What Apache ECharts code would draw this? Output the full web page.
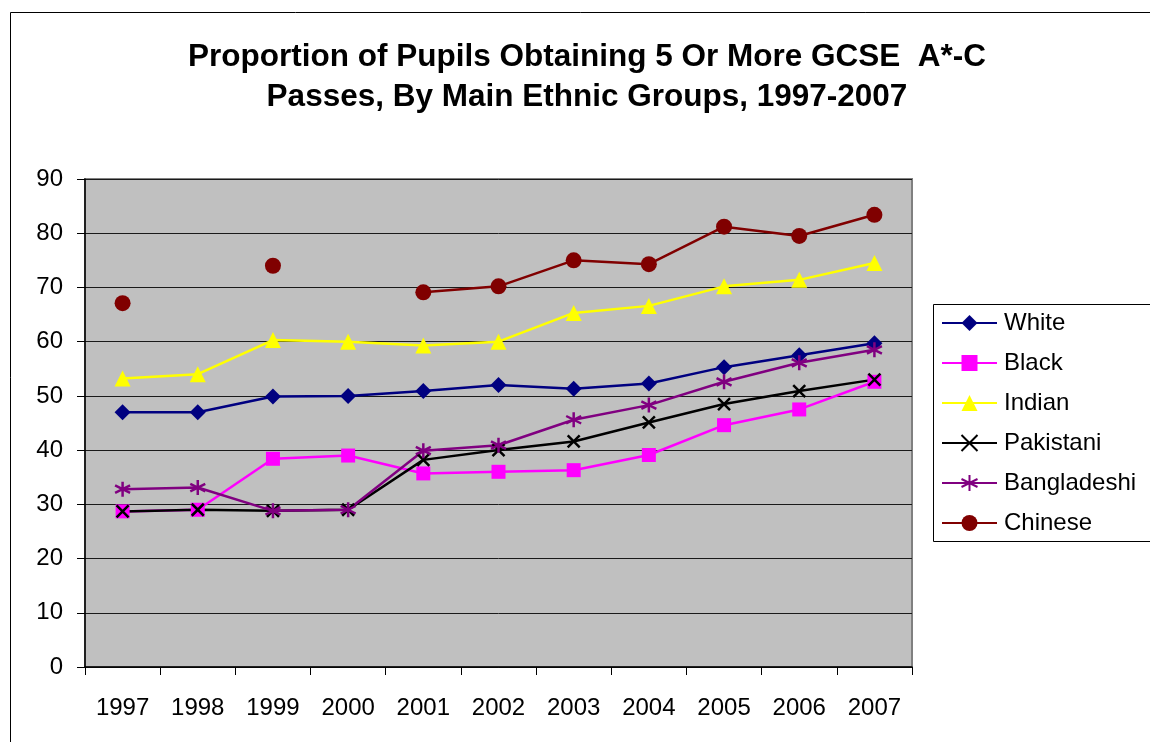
<!DOCTYPE html>
<html>
<head>
<meta charset="utf-8">
<script src="https://cdn.jsdelivr.net/npm/echarts@6/dist/echarts.min.js"></script>
<style>
  html, body { margin: 0; padding: 0; background: #fff; }
  #chart { width: 1150px; height: 742px; }
</style>
</head>
<body>
<div id="chart"></div>
<script>
// Share of pupils with 5+ GCSE A*-C passes (%), by ethnic group
const years = ['1997', '1998', '1999', '2000', '2001', '2002', '2003', '2004', '2005', '2006', '2007'];
const white       = [47.0, 47.0, 49.9, 50.0, 50.9, 52.0, 51.3, 52.3, 55.3, 57.5, 59.7];
const black       = [28.7, 29.0, 38.4, 39.0, 35.7, 36.0, 36.3, 39.1, 44.6, 47.5, 52.6];
const indian      = [53.2, 54.0, 60.3, 60.0, 59.3, 60.0, 65.3, 66.6, 70.2, 71.4, 74.5];
const pakistani   = [28.7, 29.0, 28.8, 29.0, 38.2, 40.0, 41.6, 45.1, 48.5, 50.9, 53.0];
const bangladeshi = [32.8, 33.1, 28.8, 29.0, 39.9, 40.9, 45.6, 48.3, 52.6, 56.1, 58.5];
const chinese     = [67.1, null, 74.0, null, 69.1, 70.2, 75.0, 74.3, 81.2, 79.5, 83.4];
const yTicks = { min: 0, max: 90, step: 10 };

const FONT = '"Liberation Sans", Arial, sans-serif';
const crossPath = 'path://M0,0L10,10M10,0L0,10';
const starPath = 'path://M5,0L5,10M0.7,2.5L9.3,7.5M0.7,7.5L9.3,2.5';

function lineSeries(name, data, color, symbol, size, extra) {
  return Object.assign({
    name: name,
    type: 'line',
    data: data,
    symbol: symbol,
    symbolSize: size,
    showAllSymbol: true,
    connectNulls: false,
    lineStyle: { color: color, width: 2.5 },
    itemStyle: { color: color, borderWidth: 0, opacity: 1 },
    emphasis: { disabled: true },
    animation: false
  }, extra || {});
}

const chart = echarts.init(document.getElementById('chart'), null, { renderer: 'canvas' });
chart.setOption({
  backgroundColor: '#ffffff',
  animation: false,
  title: {
    text: 'Proportion of Pupils Obtaining 5 Or More GCSE  A*-C\nPasses, By Main Ethnic Groups, 1997-2007',
    left: 587,
    top: 37,
    textAlign: 'center',
    padding: 0,
    textStyle: { fontFamily: FONT, fontSize: 31.5, fontWeight: 'bold', color: '#000', lineHeight: 40 }
  },
  legend: {
    orient: 'vertical',
    left: 941,
    top: 311,
    padding: 0,
    itemWidth: 55,
    itemHeight: 20,
    itemGap: 16,
    textStyle: { fontFamily: FONT, fontSize: 24, color: '#000', padding: [0, 0, 0, 2] },
    data: ['White', 'Black', 'Indian', 'Pakistani', 'Bangladeshi', 'Chinese']
  },
  grid: {
    left: 85, right: 238, top: 179, bottom: 75,
    show: true,
    backgroundColor: '#c0c0c0',
    borderColor: '#808080',
    borderWidth: 2
  },
  xAxis: {
    type: 'category',
    data: years,
    boundaryGap: true,
    axisLine: { lineStyle: { color: '#000', width: 1.5 } },
    axisTick: { show: true, length: 8, interval: 0, lineStyle: { color: '#000', width: 1 } },
    axisLabel: { fontFamily: FONT, fontSize: 24, color: '#000', margin: 29, interval: 0 },
    splitLine: { show: false }
  },
  yAxis: {
    type: 'value',
    min: yTicks.min,
    max: yTicks.max,
    interval: yTicks.step,
    axisLine: { show: true, lineStyle: { color: '#000', width: 1.5 } },
    axisTick: { show: true, length: 8, lineStyle: { color: '#000', width: 1 } },
    axisLabel: { fontFamily: FONT, fontSize: 24, color: '#000', margin: 22 },
    splitLine: { show: true, lineStyle: { color: '#1a1a1a', width: 1 } }
  },
  series: [
    lineSeries('White', white, '#000080', 'diamond', 16),
    lineSeries('Black', black, '#ff00ff', 'rect', 14),
    lineSeries('Indian', indian, '#ffff00', 'triangle', 16),
    lineSeries('Pakistani', pakistani, '#000000', crossPath, 12, {
      itemStyle: { color: '#000000', borderColor: '#000000', borderWidth: 2.5, opacity: 1 }
    }),
    lineSeries('Bangladeshi', bangladeshi, '#800080', starPath, 15, {
      itemStyle: { color: '#800080', borderColor: '#800080', borderWidth: 2.5, opacity: 1 }
    }),
    lineSeries('Chinese', chinese, '#800000', 'circle', 16)
  ],
  graphic: [
    {
      type: 'rect',
      silent: true,
      shape: { x: 10.5, y: 12.5, width: 1200, height: 800 },
      style: { fill: null, stroke: '#000', lineWidth: 1 },
      z: -10
    },
    {
      type: 'rect',
      silent: true,
      shape: { x: 933.5, y: 304.5, width: 300, height: 237 },
      style: { fill: '#fff', stroke: '#000', lineWidth: 1 },
      z: -5
    }
  ]
});
</script>
</body>
</html>
